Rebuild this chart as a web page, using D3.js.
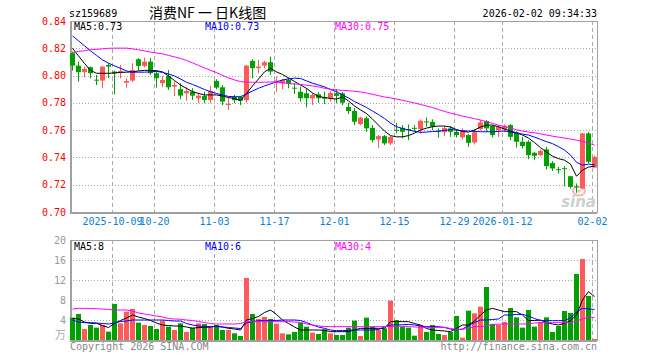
<!DOCTYPE html>
<html>
<head>
<meta charset="utf-8">
<script src="https://cdn.jsdelivr.net/npm/d3@7"></script>
<style>
    body { margin: 0; background: #fff; }
    text { font-family: "DejaVu Sans Mono", monospace; font-size: 10px; }
</style>
</head>
<body>
<div id="chart"></div>
<script>
// 88 trading days, 2025-09-22 .. 2026-02-02
const open = [0.8164, 0.8073, 0.8025, 0.8061, 0.7970, 0.7963, 0.8078, 0.8029, 0.8025, 0.7948,
    0.7963, 0.8120, 0.8071, 0.8102, 0.8017, 0.7944, 0.7997, 0.7919, 0.7900, 0.7870,
    0.7882, 0.7833, 0.7850, 0.7821, 0.7961, 0.7914, 0.7784, 0.7843, 0.7843, 0.7821,
    0.8108, 0.8054, 0.8073, 0.8098, 0.7955, 0.7944, 0.7968, 0.7911, 0.7882, 0.7870,
    0.7833, 0.7863, 0.7841, 0.7833, 0.7870, 0.7870, 0.7770, 0.7740, 0.7645, 0.7687,
    0.7617, 0.7532, 0.7556, 0.7503, 0.7602, 0.7617, 0.7608, 0.7617, 0.7608, 0.7664,
    0.7661, 0.7593, 0.7586, 0.7613, 0.7588, 0.7547, 0.7564, 0.7510, 0.7608, 0.7667,
    0.7630, 0.7600, 0.7605, 0.7637, 0.7584, 0.7515, 0.7515, 0.7434, 0.7417, 0.7459,
    0.7360, 0.7314, 0.7321, 0.7262, 0.7187, 0.7172, 0.7576, 0.7326];
const high = [0.8176, 0.8103, 0.8066, 0.8066, 0.8005, 0.8071, 0.8091, 0.8036, 0.8078, 0.7980,
    0.8091, 0.8128, 0.8132, 0.8128, 0.8034, 0.7997, 0.8041, 0.7956, 0.7944, 0.7914,
    0.7907, 0.7875, 0.7882, 0.7924, 0.7973, 0.7931, 0.7843, 0.7858, 0.7850, 0.8078,
    0.8120, 0.8115, 0.8108, 0.8139, 0.7992, 0.7975, 0.7985, 0.7944, 0.7919, 0.7907,
    0.7870, 0.7880, 0.7882, 0.7887, 0.7900, 0.7880, 0.7799, 0.7762, 0.7698, 0.7700,
    0.7637, 0.7564, 0.7564, 0.7556, 0.7654, 0.7637, 0.7642, 0.7637, 0.7679, 0.7694,
    0.7679, 0.7613, 0.7630, 0.7630, 0.7606, 0.7613, 0.7571, 0.7608, 0.7674, 0.7674,
    0.7637, 0.7637, 0.7642, 0.7645, 0.7591, 0.7551, 0.7525, 0.7441, 0.7458, 0.7478,
    0.7373, 0.7331, 0.7336, 0.7265, 0.7209, 0.7580, 0.7588, 0.7412];
const low = [0.8036, 0.7956, 0.7988, 0.7980, 0.7931, 0.7907, 0.7980, 0.7863, 0.7980, 0.7911,
    0.7951, 0.8036, 0.8061, 0.8005, 0.7911, 0.7914, 0.7895, 0.7850, 0.7826, 0.7816,
    0.7821, 0.7797, 0.7797, 0.7797, 0.7900, 0.7784, 0.7748, 0.7797, 0.7784, 0.7801,
    0.7980, 0.8017, 0.8054, 0.8005, 0.7882, 0.7900, 0.7907, 0.7865, 0.7809, 0.7767,
    0.7784, 0.7800, 0.7792, 0.7809, 0.7797, 0.7784, 0.7718, 0.7637, 0.7637, 0.7588,
    0.7510, 0.7470, 0.7490, 0.7490, 0.7576, 0.7540, 0.7527, 0.7588, 0.7576, 0.7625,
    0.7600, 0.7545, 0.7556, 0.7551, 0.7547, 0.7532, 0.7478, 0.7495, 0.7598, 0.7588,
    0.7547, 0.7551, 0.7588, 0.7527, 0.7473, 0.7466, 0.7387, 0.7380, 0.7410, 0.7312,
    0.7301, 0.7282, 0.7189, 0.7172, 0.7140, 0.7165, 0.7356, 0.7321];
const close = [0.8073, 0.8025, 0.8049, 0.8017, 0.7968, 0.8066, 0.8066, 0.8017, 0.8034, 0.7960,
    0.8041, 0.8071, 0.8102, 0.8017, 0.7981, 0.7968, 0.7914, 0.7931, 0.7853, 0.7887,
    0.7853, 0.7853, 0.7821, 0.7887, 0.7912, 0.7809, 0.7792, 0.7819, 0.7816, 0.8073,
    0.8054, 0.8066, 0.8098, 0.8029, 0.7963, 0.7968, 0.7944, 0.7907, 0.7834, 0.7834,
    0.7858, 0.7834, 0.7831, 0.7872, 0.7851, 0.7801, 0.7740, 0.7662, 0.7691, 0.7613,
    0.7527, 0.7556, 0.7503, 0.7551, 0.7598, 0.7588, 0.7602, 0.7612, 0.7669, 0.7659,
    0.7625, 0.7588, 0.7615, 0.7588, 0.7564, 0.7600, 0.7507, 0.7584, 0.7657, 0.7613,
    0.7564, 0.7625, 0.7632, 0.7551, 0.7515, 0.7483, 0.7417, 0.7412, 0.7448, 0.7336,
    0.7319, 0.7312, 0.7316, 0.7184, 0.7184, 0.7576, 0.7368, 0.7404];
// volume, 万
const volume = [4.47, 5.2, 2.2, 3.0, 2.47, 3.0, 1.67, 7.2, 3.33, 5.67,
    6.2, 3.47, 3.0, 2.8, 2.2, 3.87, 2.67, 2.0, 3.33, 1.6,
    2.47, 3.33, 3.2, 2.8, 3.0, 2.0, 2.0, 1.33, 0.8, 12.4,
    5.2, 4.2, 4.6, 4.2, 3.27, 1.33, 1.13, 1.6, 3.47, 2.67,
    1.47, 1.2, 2.13, 1.33, 1.0, 1.0, 2.47, 3.87, 0.8, 4.47,
    2.67, 2.0, 2.33, 7.87, 4.0, 2.67, 2.47, 0.87, 3.0, 1.6,
    3.0, 1.2, 1.0, 1.6, 4.8, 0.47, 5.87, 5.33, 6.67, 10.6,
    3.2, 3.0, 3.6, 6.4, 4.53, 2.47, 6.0, 2.67, 3.6, 4.53,
    1.6, 2.8, 5.8, 5.4, 13.2, 16.2, 8.8, 0.2];

// moving averages as shown on the chart
const ma5 = [0.8200, 0.8144, 0.8089, 0.8038, 0.8017, 0.8017, 0.8017, 0.8019, 0.8023, 0.8025,
    0.8027, 0.8034, 0.8038, 0.8038, 0.8036, 0.8027, 0.7997, 0.7964, 0.7931, 0.7906,
    0.7882, 0.7869, 0.7858, 0.7858, 0.7858, 0.7850, 0.7839, 0.7832, 0.7817, 0.7869,
    0.7924, 0.7975, 0.8027, 0.8053, 0.8027, 0.8008, 0.7983, 0.7957, 0.7931, 0.7906,
    0.7872, 0.7847, 0.7839, 0.7832, 0.7828, 0.7843, 0.7814, 0.7777, 0.7748, 0.7722,
    0.7681, 0.7637, 0.7593, 0.7560, 0.7551, 0.7551, 0.7560, 0.7578, 0.7601, 0.7615,
    0.7625, 0.7630, 0.7630, 0.7623, 0.7604, 0.7591, 0.7586, 0.7601, 0.7623, 0.7637,
    0.7637, 0.7625, 0.7608, 0.7593, 0.7581, 0.7564, 0.7542, 0.7509, 0.7472, 0.7439,
    0.7409, 0.7391, 0.7380, 0.7351, 0.7262, 0.7307, 0.7329, 0.7336];
const ma10 = [0.8291, 0.8255, 0.8218, 0.8181, 0.8148, 0.8115, 0.8091, 0.8071, 0.8053, 0.8034,
    0.8025, 0.8025, 0.8025, 0.8027, 0.8031, 0.8023, 0.8012, 0.7997, 0.7975, 0.7951,
    0.7935, 0.7917, 0.7898, 0.7882, 0.7869, 0.7858, 0.7847, 0.7845, 0.7845, 0.7865,
    0.7887, 0.7907, 0.7924, 0.7939, 0.7953, 0.7968, 0.7975, 0.7981, 0.7979, 0.7961,
    0.7944, 0.7931, 0.7917, 0.7898, 0.7882, 0.7858, 0.7836, 0.7810, 0.7788, 0.7766,
    0.7740, 0.7714, 0.7685, 0.7652, 0.7625, 0.7612, 0.7601, 0.7591, 0.7584, 0.7586,
    0.7590, 0.7593, 0.7598, 0.7604, 0.7601, 0.7595, 0.7593, 0.7590, 0.7588, 0.7588,
    0.7588, 0.7591, 0.7593, 0.7586, 0.7578, 0.7571, 0.7564, 0.7549, 0.7532, 0.7516,
    0.7501, 0.7479, 0.7454, 0.7417, 0.7365, 0.7343, 0.7351, 0.7347];
const ma30 = [0.8169, 0.8177, 0.8183, 0.8189, 0.8192, 0.8196, 0.8200, 0.8201, 0.8201, 0.8201,
    0.8196, 0.8189, 0.8181, 0.8172, 0.8166, 0.8159, 0.8148, 0.8137, 0.8126, 0.8111,
    0.8093, 0.8075, 0.8056, 0.8038, 0.8022, 0.8001, 0.7983, 0.7968, 0.7956, 0.7951,
    0.7951, 0.7951, 0.7951, 0.7953, 0.7953, 0.7946, 0.7942, 0.7939, 0.7935, 0.7929,
    0.7924, 0.7917, 0.7907, 0.7900, 0.7895, 0.7892, 0.7889, 0.7885, 0.7880, 0.7872,
    0.7863, 0.7853, 0.7843, 0.7836, 0.7828, 0.7819, 0.7809, 0.7799, 0.7788, 0.7777,
    0.7766, 0.7751, 0.7737, 0.7725, 0.7714, 0.7703, 0.7694, 0.7684, 0.7674, 0.7662,
    0.7650, 0.7637, 0.7626, 0.7615, 0.7603, 0.7593, 0.7586, 0.7581, 0.7573, 0.7564,
    0.7556, 0.7549, 0.7542, 0.7534, 0.7527, 0.7517, 0.7505, 0.7490];
const vma5 = [4.33, 4.2, 3.6, 3.33, 3.33, 2.9, 2.5, 3.3, 3.9, 4.4,
    5.0, 4.6, 4.3, 3.9, 3.4, 3.0, 2.9, 2.8, 2.8, 2.6,
    2.35, 2.5, 2.53, 2.6, 2.8, 2.6, 2.33, 2.2, 2.0, 4.0,
    4.3, 4.7, 5.5, 6.0, 5.1, 4.0, 3.3, 2.6, 2.0, 2.0,
    2.0, 2.0, 1.95, 1.67, 1.67, 1.67, 1.67, 2.0, 2.33, 2.33,
    2.33, 2.33, 2.33, 3.67, 3.67, 3.67, 3.67, 3.3, 3.0, 2.3,
    2.0, 1.9, 1.8, 1.67, 2.33, 3.0, 3.0, 3.8, 5.0, 6.0,
    6.33, 6.0, 5.67, 5.67, 5.67, 5.0, 3.87, 3.9, 4.0, 3.5,
    3.2, 3.0, 3.33, 3.87, 5.0, 8.0, 9.67, 8.67];
const vma10 = [4.0, 3.6, 3.47, 3.47, 3.4, 3.3, 3.2, 3.4, 3.7, 3.8,
    4.0, 4.0, 4.0, 4.0, 4.0, 4.0, 3.9, 3.8, 3.8, 3.3,
    3.0, 2.8, 2.67, 2.67, 2.67, 2.6, 2.5, 2.4, 2.3, 3.4,
    3.67, 3.87, 3.87, 3.87, 3.9, 4.0, 4.0, 4.0, 3.9, 3.5,
    3.0, 2.6, 2.33, 2.0, 1.87, 1.87, 1.95, 2.0, 2.0, 2.0,
    2.0, 2.1, 2.6, 3.0, 3.0, 3.05, 3.13, 3.0, 2.8, 2.67,
    2.67, 2.67, 2.5, 2.2, 2.0, 2.2, 2.9, 3.5, 4.0, 4.0,
    4.1, 4.2, 5.0, 5.0, 5.1, 5.13, 4.8, 4.3, 3.87, 3.87,
    3.87, 3.87, 3.9, 4.4, 5.6, 6.33, 6.2, 6.13];
const vma30 = [6.2, 6.33, 6.33, 6.3, 6.25, 6.2, 6.1, 6.0, 6.0, 6.0,
    5.8, 5.4, 5.2, 5.0, 4.8, 4.6, 4.3, 4.2, 4.15, 4.0,
    3.9, 3.7, 3.5, 3.3, 3.2, 3.2, 3.2, 3.2, 3.3, 3.67,
    3.67, 3.67, 3.67, 3.67, 3.67, 3.67, 3.67, 3.6, 3.5, 3.2,
    3.0, 2.8, 2.7, 2.67, 2.67, 2.67, 2.67, 2.67, 2.67, 2.67,
    2.67, 2.67, 2.67, 2.7, 2.8, 2.75, 2.7, 2.6, 2.55, 2.53,
    2.53, 2.53, 2.53, 2.3, 2.13, 2.13, 2.4, 2.67, 2.67, 2.8,
    3.13, 3.15, 3.2, 3.2, 3.2, 3.2, 3.25, 3.4, 3.47, 3.47,
    3.47, 3.47, 3.47, 3.47, 3.8, 4.2, 4.53, 4.53];

// date labels on the x axis (index into the days above)
const dateTicks = [7, 14, 24, 34, 44, 54, 64, 72, 87];
const dateLabels = ["2025-10-09", "10-20", "11-03", "11-17", "12-01", "12-15", "12-29", "2026-01-12", "02-02"];
const priceTicks = [0.70, 0.72, 0.74, 0.76, 0.78, 0.80, 0.82, 0.84];
const volTicks = [4, 8, 12, 16, 20];
const priceMaText = ["MA5:0.73", "MA10:0.73", "MA30:0.75"];
const volMaText = ["MA5:8", "MA10:6", "MA30:4"];

const upColor = "#ff5a5a";
const downColor = "#00a000";
const maColors = ["#000000", "#0000ff", "#ff00ff"];
const gridColor = "#aaaaaa";

const W = 660, H = 360;
const plotLeft = 70, plotRight = 598;
const pTop = 21, pBottom = 212;
const vTop = 240, vBottom = 340;

const rows = open.map((o, i) => ({ i: i, o: o, h: high[i], l: low[i], c: close[i], v: volume[i] }));

const svg = d3.select("#chart")
    .append("svg")
    .attr("width", W)
    .attr("height", H);

const x = d3.scaleBand()
    .domain(rows.map(d => d.i))
    .range([plotLeft, plotRight])
    .paddingInner(1 / 6)
    .paddingOuter(1 / 12)
    .align(0);

const y = d3.scaleLinear().domain([0.70, 0.84]).range([pBottom, pTop]);
const yv = d3.scaleLinear().domain([0, 20]).range([vBottom, vTop]);

const crisp = v => Math.round(v) + 0.5;

// ---- grids ----
function drawGrid(top, bottom, scale, ticks) {
    const g = svg.append("g");
    g.selectAll(".hgrid")
        .data(ticks.slice(1, -1))
        .join("line")
        .attr("x1", plotLeft).attr("x2", plotRight - 1)
        .attr("y1", d => crisp(scale(d))).attr("y2", d => crisp(scale(d)))
        .attr("stroke", gridColor)
        .attr("stroke-dasharray", "1,2");
    g.selectAll(".vgrid")
        .data(dateTicks)
        .join("line")
        .attr("x1", d => x(d) + 0.5).attr("x2", d => x(d) + 0.5)
        .attr("y1", top).attr("y2", bottom)
        .attr("stroke", gridColor)
        .attr("stroke-dasharray", "4,3");
    g.append("rect")
        .attr("x", plotLeft + 0.5).attr("y", top + 0.5)
        .attr("width", plotRight - plotLeft - 1).attr("height", bottom - top)
        .attr("fill", "none")
        .attr("stroke", "#a0a0a0");
    // left and bottom edges are drawn heavier
    g.append("path")
        .attr("d", `M${plotLeft + 1},${top} V${bottom + 1} H${plotRight - 1}`)
        .attr("fill", "none")
        .attr("stroke", "#a0a0a0")
        .attr("stroke-width", 2);
}
drawGrid(pTop, pBottom, y, priceTicks);
drawGrid(vTop, vBottom, yv, [0].concat(volTicks));

// sina watermark (under the candles)
const mark = svg.append("g").attr("transform", "translate(579, 191)");
mark.append("ellipse")
    .attr("rx", 6).attr("ry", 4.5)
    .attr("fill", "none")
    .attr("stroke", "#f4b8b8")
    .attr("stroke-width", 2);
mark.append("circle").attr("r", 1.5).attr("fill", "#f4b8b8");
svg.append("text").attr("x", 596).attr("y", 207)
    .attr("text-anchor", "end")
    .attr("fill", "#cfcfcf")
    .style("font-family", "'DejaVu Sans'")
    .style("font-size", "15px")
    .style("font-weight", "bold")
    .style("font-style", "italic")
    .text("sina");

// ---- candles ----
const candle = svg.append("g").selectAll("g")
    .data(rows)
    .join("g")
    .attr("fill", d => d.c >= d.o ? upColor : downColor);

candle.append("rect")
    .attr("x", d => x(d.i) + 2)
    .attr("width", 1)
    .attr("y", d => y(d.h))
    .attr("height", d => y(d.l) - y(d.h));

candle.append("rect")
    .attr("x", d => x(d.i))
    .attr("width", x.bandwidth())
    .attr("y", d => y(Math.max(d.o, d.c)))
    .attr("height", d => Math.max(1, Math.abs(y(d.o) - y(d.c))));

// ---- volume bars ----
svg.append("g").selectAll("rect")
    .data(rows)
    .join("rect")
    .attr("x", d => x(d.i))
    .attr("width", x.bandwidth())
    .attr("y", d => yv(d.v))
    .attr("height", d => vBottom - yv(d.v))
    .attr("fill", d => d.c >= d.o ? upColor : downColor);

// ---- MA lines ----
const cx = (d, i) => x(i) + 2.5;
[ma5, ma10, ma30].forEach((arr, k) => {
    svg.append("path")
        .attr("d", d3.line().x(cx).y(d => y(d))(arr))
        .attr("fill", "none")
        .attr("stroke", maColors[k])
        .attr("stroke-width", 1);
});
[vma5, vma10, vma30].forEach((arr, k) => {
    svg.append("path")
        .attr("d", d3.line().x(cx).y(d => yv(d))(arr))
        .attr("fill", "none")
        .attr("stroke", maColors[k])
        .attr("stroke-width", 1);
});

// ---- axis labels ----
svg.append("g").selectAll("text")
    .data(priceTicks)
    .join("text")
    .attr("x", 66)
    .attr("y", d => y(d))
    .attr("dy", "0.35em")
    .attr("text-anchor", "end")
    .attr("fill", "#ff0000")
    .text(d => d.toFixed(2));

svg.append("g").selectAll("text")
    .data(volTicks)
    .join("text")
    .attr("x", 66)
    .attr("y", d => yv(d))
    .attr("dy", "0.35em")
    .attr("text-anchor", "end")
    .attr("fill", "#999")
    .text(d => d);

svg.append("text")
    .attr("x", 66).attr("y", 339)
    .attr("text-anchor", "end")
    .attr("fill", "#aaa")
    .style("font-family", "'Noto Sans CJK SC'")
    .style("font-size", "11px")
    .text("万");

svg.append("g").selectAll("text")
    .data(dateTicks)
    .join("text")
    .attr("x", d => x(d) + 0.5)
    .attr("y", 221)
    .attr("dy", "0.35em")
    .attr("text-anchor", "middle")
    .attr("fill", "#0a7fd6")
    .text((d, i) => dateLabels[i]);

// MA legends
const legendX = [74, 205, 335];
priceMaText.forEach((t, k) => {
    svg.append("text").attr("x", legendX[k]).attr("y", 26).attr("dy", "0.35em")
        .attr("fill", maColors[k]).text(t);
});
volMaText.forEach((t, k) => {
    svg.append("text").attr("x", legendX[k]).attr("y", 246).attr("dy", "0.35em")
        .attr("fill", maColors[k]).text(t);
});

// ---- header / footer ----
svg.append("text").attr("x", 69).attr("y", 13).attr("dy", "0.35em").text("sz159689");
svg.append("text").attr("x", 149).attr("y", 13).attr("dy", "0.35em")
    .style("font-family", "'Noto Sans CJK SC'")
    .style("font-size", "14px")
    .style("white-space", "pre")
    .text("消费NF 一 日K线图");
svg.append("text").attr("x", 597).attr("y", 13).attr("dy", "0.35em")
    .attr("text-anchor", "end").text("2026-02-02 09:34:33");

svg.append("text").attr("x", 70).attr("y", 346).attr("dy", "0.35em")
    .attr("fill", "#888").text("Copyright 2026 SINA.COM");
svg.append("text").attr("x", 597).attr("y", 346).attr("dy", "0.35em")
    .attr("text-anchor", "end").attr("fill", "#888").text("http://finance.sina.com.cn");
</script>
</body>
</html>
